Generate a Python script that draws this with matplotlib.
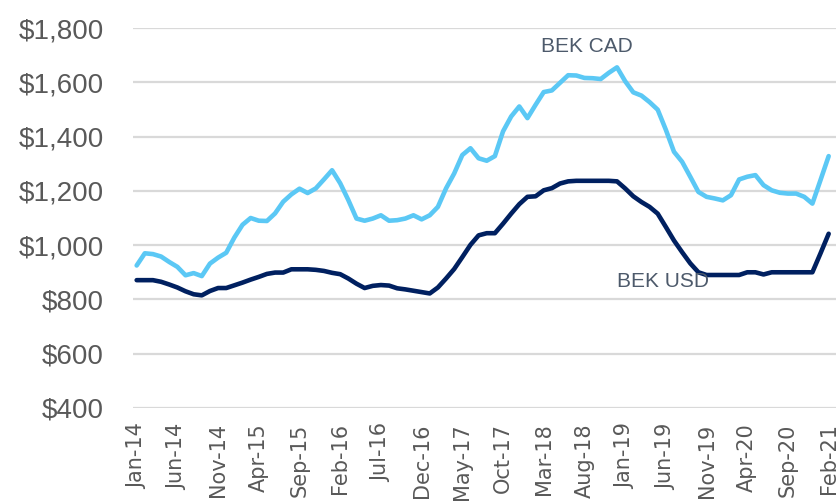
import matplotlib
matplotlib.use("Agg")
import matplotlib.pyplot as plt
import pandas as pd

months = [d.strftime("%b-%y") for d in pd.date_range("2014-01-01", "2021-02-01", freq="MS")]

bek_cad = [925, 970, 967, 958, 938, 920, 889, 897, 886, 932, 954, 972, 1028, 1075, 1100,
           1090, 1089, 1117, 1160, 1187, 1208, 1192, 1209, 1242, 1276, 1228, 1166, 1098,
           1090, 1098, 1110, 1090, 1092, 1098, 1110, 1095, 1110, 1141, 1209, 1264, 1332,
           1357, 1320, 1311, 1328, 1419, 1474, 1511, 1468, 1517, 1564, 1570, 1598, 1626,
           1625, 1616, 1615, 1612, 1635, 1655, 1604, 1563, 1551, 1527, 1499, 1425, 1344,
           1307, 1252, 1196, 1178, 1172, 1165, 1184, 1242, 1252, 1258, 1221, 1202, 1193,
           1190, 1190, 1178, 1153, 1240, 1328]

bek_usd = [871, 871, 871, 865, 855, 844, 830, 819, 815, 831, 842, 842, 852, 862, 873,
           883, 894, 899, 899, 911, 911, 911, 909, 905, 898, 893, 877, 858, 842, 850,
           853, 851, 841, 837, 832, 827, 822, 844, 877, 912, 956, 1001, 1036, 1044, 1044,
           1079, 1116, 1151, 1178, 1180, 1202, 1210, 1227, 1235, 1237, 1237, 1237, 1237,
           1237, 1235, 1209, 1180, 1159, 1141, 1116, 1067, 1017, 974, 933, 900, 890, 890,
           890, 890, 890, 900, 900, 892, 900, 900, 900, 900, 900, 900, 970, 1042]

tick_labels = ["Jan-14", "Jun-14", "Nov-14", "Apr-15", "Sep-15", "Feb-16", "Jul-16",
               "Dec-16", "May-17", "Oct-17", "Mar-18", "Aug-18", "Jan-19", "Jun-19",
               "Nov-19", "Apr-20", "Sep-20", "Feb-21"]
y_ticks = [400, 600, 800, 1000, 1200, 1400, 1600, 1800]

fig = plt.figure(figsize=(8.38, 5.04), dpi=100)
ax = fig.add_axes([133 / 838, 1 - 408 / 504, (836 - 133) / 838, (408 - 28) / 504])

x = list(range(len(months)))
ax.plot(x, bek_cad, color="#5BC8F5", lw=3.3, solid_joinstyle="round", solid_capstyle="round", zorder=3)
ax.plot(x, bek_usd, color="#002060", lw=3.3, solid_joinstyle="round", solid_capstyle="round", zorder=3)

ax.set_ylim(400, 1800)
ax.set_xlim(-0.45, 85.9)
ax.set_yticks(y_ticks)
ax.set_yticklabels([f"${v:,}" for v in y_ticks], fontfamily="Liberation Sans", fontsize=20, color="#595959")
tick_pos = [months.index(t) for t in tick_labels]
ax.set_xticks(tick_pos)
ax.set_xticklabels(tick_labels, rotation=90, fontfamily="DejaVu Sans", fontsize=15, color="#595959")
ax.tick_params(axis="y", length=0, pad=21)
ax.tick_params(axis="x", length=0, pad=11)
ax.grid(axis="y", color="#D9D9D9", lw=1.6, zorder=0)
for s in ax.spines.values():
    s.set_visible(False)

ax.text(55.3, 1730, "BEK CAD", fontfamily="Liberation Sans", fontsize=15,
        color="#4D5A6B", ha="center", va="center")
ax.text(64.6, 866, "BEK USD", fontfamily="Liberation Sans", fontsize=15,
        color="#4D5A6B", ha="center", va="center", zorder=4)

fig.savefig("out.png", dpi=100)
